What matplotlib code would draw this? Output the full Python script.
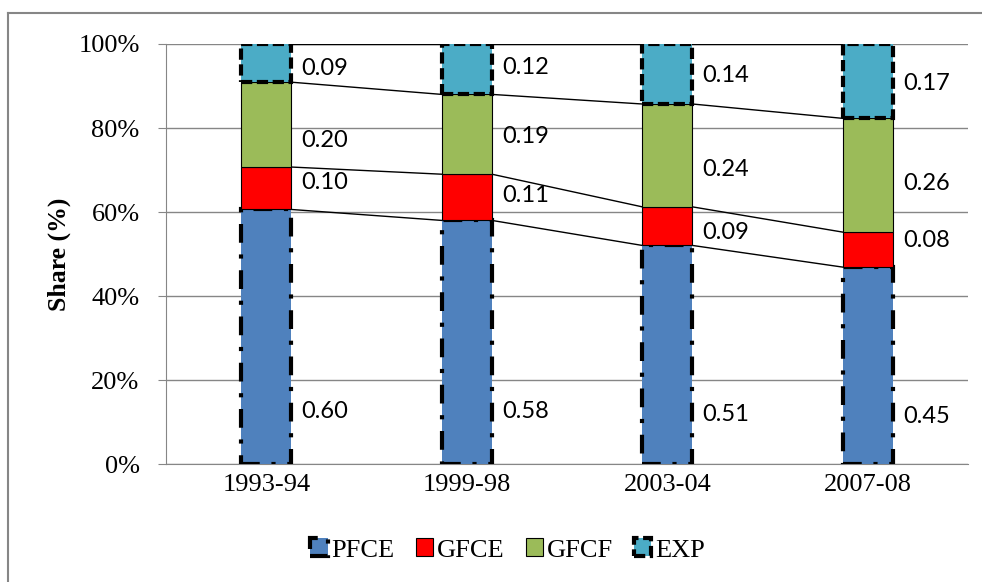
import numpy as np
import matplotlib.pyplot as plt
from matplotlib.lines import Line2D
from matplotlib.patches import Patch

anos = ['1993-94', '1999-98', '2003-04', '2007-08']
pfce = [0.60, 0.58, 0.51, 0.45]
gfce = [0.10, 0.11, 0.09, 0.08]
gfcf = [0.20, 0.19, 0.24, 0.26]
exp = [0.09, 0.12, 0.14, 0.17]

# posicao vertical dos rotulos (fracao do eixo), ajustada a mao
rot_pfce = [0.124, 0.124, 0.119, 0.112]
rot_gfce = [0.670, 0.639, 0.551, 0.532]
rot_gfcf = [0.770, 0.779, 0.701, 0.667]
rot_exp = [0.941, 0.945, 0.924, 0.907]

serif = 'Liberation Serif'
sans = 'Lato'

series = [pfce, gfce, gfcf, exp]
rotulos = [rot_pfce, rot_gfce, rot_gfcf, rot_exp]
nomes = ['PFCE', 'GFCE', 'GFCF', 'EXP']
cores = ['#4F81BD', '#FF0000', '#9BBB59', '#4BACC6']
estilos = [(0, (4.5, 2.8, 1, 2.8)), 'solid', 'solid', (0, (2.7, 1.1))]
larguras = [3.0, 0.8, 0.8, 3.0]

dados = np.array(series)
share = dados / dados.sum(axis=0)

fig = plt.figure(figsize=(9.82, 5.82), dpi=100)
ax = fig.add_axes([0.169, 0.2027, 0.817, 0.7217])

x = np.arange(len(anos))
w = 0.25
base = np.zeros(len(anos))
topos = []
for k in range(4):
    ax.bar(x, share[k], w, bottom=base, color=cores[k], edgecolor='black',
           linewidth=larguras[k], linestyle=estilos[k], zorder=3 + k)
    base = base + share[k]
    topos.append(base.copy())
    for i in range(len(anos)):
        ax.text(x[i] + w / 2 + 0.05, rotulos[k][i], '%.2f' % series[k][i],
                ha='left', va='center', fontsize=17, family=sans, zorder=10)

# linhas de serie entre as barras
for t in topos:
    for i in range(len(anos) - 1):
        ax.plot([x[i] + w / 2, x[i + 1] - w / 2], [t[i], t[i + 1]],
                color='black', lw=1, zorder=2)

ax.set_xlim(-0.5, 3.5)
ax.set_ylim(0, 1)
ax.set_yticks(np.arange(0, 1.01, 0.2))
ax.set_yticklabels(['%d%%' % v for v in range(0, 101, 20)])
ax.set_xticks(x)
ax.set_xticklabels(anos)
ax.grid(axis='y', color='#868686', lw=1, zorder=0)
ax.tick_params(axis='y', length=6, color='#868686', labelsize=19, pad=13)
ax.tick_params(axis='x', length=0, labelsize=19, pad=7)
for lab in ax.get_xticklabels() + ax.get_yticklabels():
    lab.set_family(serif)
for s in ['top', 'right']:
    ax.spines[s].set_visible(False)
for s in ['left', 'bottom']:
    ax.spines[s].set_color('#868686')
ax.set_ylabel('Share (%)', fontsize=18.5, family=serif, fontweight='bold', labelpad=5)

handles = [Patch(facecolor=cores[k], edgecolor='black', linewidth=larguras[k],
                 linestyle=estilos[k]) for k in range(4)]
fig.legend(handles, nomes, loc='center', bbox_to_anchor=(0.517, 0.055), ncol=4,
           frameon=False, prop={'family': serif, 'size': 19},
           handlelength=0.65, handleheight=0.65, handletextpad=0.15, columnspacing=0.8)

# moldura do grafico (cortada a direita e embaixo)
fig.add_artist(Line2D([8 / 982, 8 / 982], [0, 1 - 13 / 582], color='#868686', lw=1.5))
fig.add_artist(Line2D([8 / 982, 1], [1 - 13 / 582, 1 - 13 / 582], color='#868686', lw=1.5))

fig.savefig('out.png', dpi=100)
